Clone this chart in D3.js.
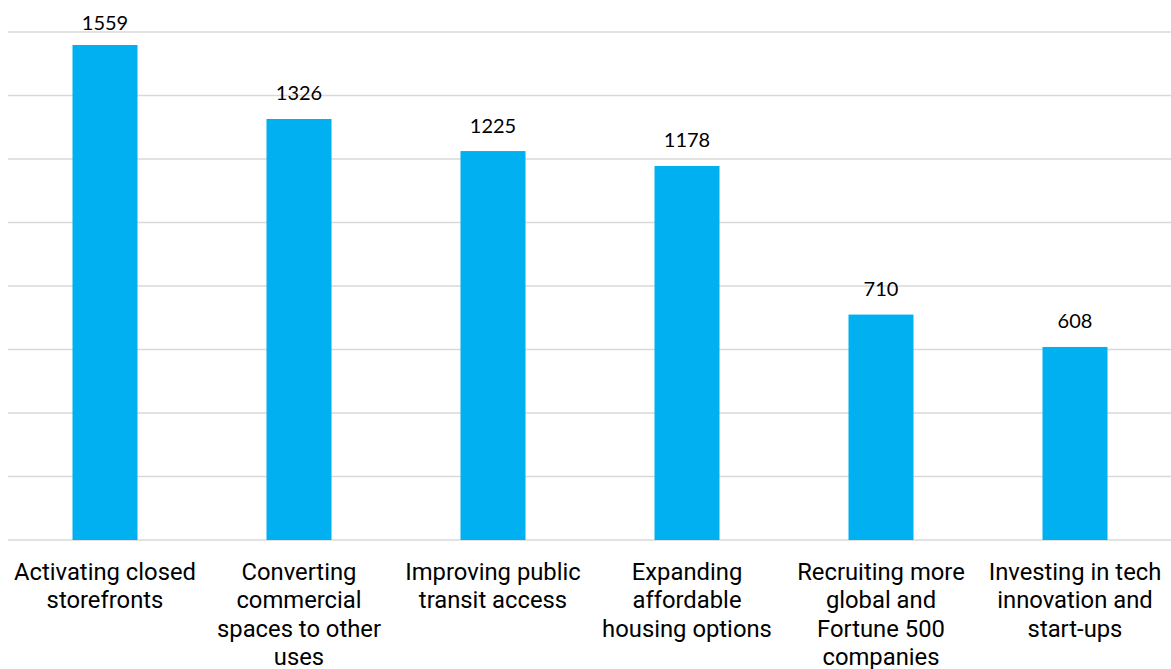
<!DOCTYPE html>
<html><head><meta charset="utf-8">
<script src="https://cdn.jsdelivr.net/npm/d3@7"></script>
<style>html,body{margin:0;padding:0;background:#fff;}</style>
</head><body>
<svg id="chart" width="1171" height="669"></svg>
<script>
const categories = [
  "Activating closed storefronts",
  "Converting commercial spaces to other uses",
  "Improving public transit access",
  "Expanding affordable housing options",
  "Recruiting more global and Fortune 500 companies",
  "Investing in tech innovation and start-ups"
];
const categoryLines = [
  ["Activating closed", "storefronts"],
  ["Converting", "commercial", "spaces to other", "uses"],
  ["Improving public", "transit access"],
  ["Expanding", "affordable", "housing options"],
  ["Recruiting more", "global and", "Fortune 500", "companies"],
  ["Investing in tech", "innovation and", "start-ups"]
];
const values = [1559, 1326, 1225, 1178, 710, 608];
const yTicks = [0, 200, 400, 600, 800, 1000, 1200, 1400, 1600];

const svg = d3.select("#chart");
const x = d3.scaleBand().domain(categories).range([8, 1172]).paddingInner(0.665).paddingOuter(0.3325);
const y = d3.scaleLinear().domain([0, 1600]).range([540, 32]);

svg.append("g").selectAll("line").data(yTicks).join("line")
  .attr("x1", 8).attr("x2", 1171)
  .attr("y1", d => y(d)).attr("y2", d => y(d))
  .attr("stroke", "#d9d9d9").attr("stroke-width", 1.5);

svg.append("g").selectAll("rect").data(values).join("rect")
  .attr("x", (d, i) => x(categories[i]))
  .attr("width", x.bandwidth())
  .attr("y", d => y(d))
  .attr("height", d => y(0) - y(d))
  .attr("fill", "#00b0f0");

svg.append("g").selectAll("text").data(values).join("text")
  .attr("x", (d, i) => x(categories[i]) + x.bandwidth() / 2)
  .attr("y", d => Math.max(y(d) - 18.5, 29.5))
  .attr("text-anchor", "middle")
  .attr("font-family", "Lato, 'Open Sans', sans-serif")
  .attr("font-size", 20)
  .attr("fill", "#000")
  .text(d => d);

const lab = svg.append("g").selectAll("text").data(categoryLines).join("text")
  .attr("x", (d, i) => x(categories[i]) + x.bandwidth() / 2)
  .attr("y", 579.5)
  .attr("text-anchor", "middle")
  .attr("font-family", "Roboto, sans-serif")
  .attr("font-size", 23.8)
  .attr("fill", "#000");
lab.each(function(lines) {
  const t = d3.select(this);
  const cx = t.attr("x");
  lines.forEach((ln, k) => {
    t.append("tspan").attr("x", cx).attr("dy", k === 0 ? 0 : 28.6).text(ln);
  });
});
</script>
</body></html>
